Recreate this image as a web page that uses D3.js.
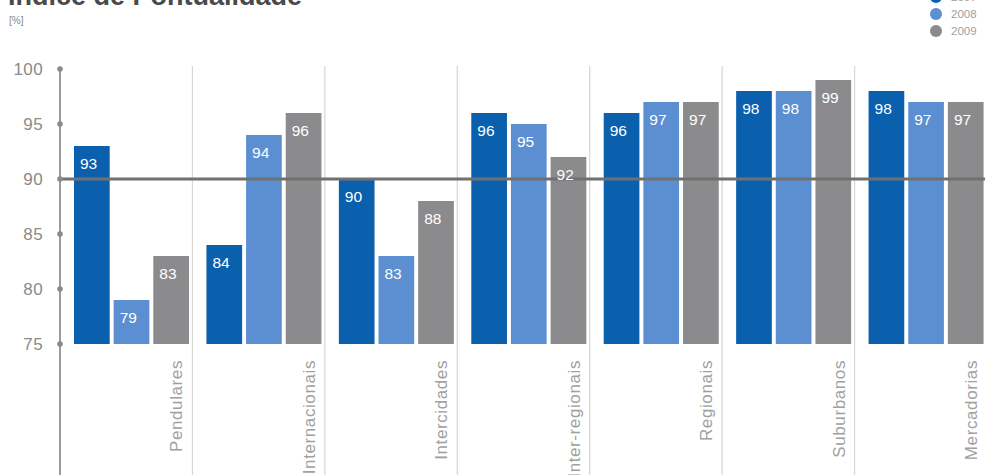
<!DOCTYPE html>
<html><head><meta charset="utf-8">
<script src="https://cdn.jsdelivr.net/npm/d3@7"></script>
<style>
html,body{margin:0;padding:0;background:#fff;overflow:hidden;}
text{font-family:"Liberation Sans",Arial,sans-serif;}
</style></head>
<body><svg id="c" width="985" height="475"></svg>
<script>
const categories = ["Pendulares","Internacionais","Intercidades","Inter-regionais","Regionais","Suburbanos","Mercadorias"];
const series = ["2007","2008","2009"];
const values2007 = [93,84,90,96,96,98,98];
const values2008 = [79,94,83,95,97,98,97];
const values2009 = [83,96,88,92,97,99,97];
const yTicks = [75,80,85,90,95,100];
const referenceValue = 90;
const colors = ["#0b60ae","#5b8fd2","#8b8b8d"];

const seriesValues = [values2007, values2008, values2009];
const svg = d3.select("#c");

const x0 = d3.scaleBand().domain(categories).range([60, 987]).paddingInner(0).paddingOuter(0);
const x1 = d3.scaleBand().domain(series).range([14, 129]).paddingInner(0.1).paddingOuter(0);
const y = d3.scaleLinear().domain([75, 100]).range([344, 69]);

// title (cut at the top edge, as in the reference)
svg.append("text").attr("x", 8).attr("y", 5).attr("font-size", 27).attr("font-weight", "bold")
  .attr("fill", "#4a4a4a").text("Índice de Pontualidade");
svg.append("text").attr("x", 9).attr("y", 24).attr("font-size", 10).attr("fill", "#888").text("[%]");

// legend
series.forEach((s, i) => {
  const cy = -3 + i * 17;
  svg.append("circle").attr("cx", 936).attr("cy", cy).attr("r", 6).attr("fill", colors[i]);
  svg.append("text").attr("x", 951).attr("y", cy + 4).attr("font-size", 11.5).attr("fill", "#a0a0a0").text(s);
});

// separators
categories.slice(1).forEach(c => {
  svg.append("line").attr("x1", x0(c)).attr("x2", x0(c)).attr("y1", 66).attr("y2", 475)
    .attr("stroke", "#d6d6d6").attr("stroke-width", 1.2);
});

// bars
const g = svg.append("g");
categories.forEach((c, ci) => {
  series.forEach((s, si) => {
    const v = seriesValues[si][ci];
    const bx = x0(c) + x1(s);
    g.append("rect").attr("x", bx).attr("y", y(v)).attr("width", x1.bandwidth())
      .attr("height", y(75) - y(v)).attr("fill", colors[si]);
  });
});

// reference line
svg.append("line").attr("x1", 60).attr("x2", 985).attr("y1", y(referenceValue)).attr("y2", y(referenceValue))
  .attr("stroke", "#707070").attr("stroke-width", 3);

// value labels
categories.forEach((c, ci) => {
  series.forEach((s, si) => {
    const v = seriesValues[si][ci];
    const bx = x0(c) + x1(s);
    svg.append("text").attr("x", bx + 6).attr("y", y(v) + 23).attr("font-size", 15.5)
      .attr("fill", "#fff").text(v);
  });
});

// y axis
svg.append("line").attr("x1", 60).attr("x2", 60).attr("y1", 69).attr("y2", 475)
  .attr("stroke", "#9a9a9a").attr("stroke-width", 2);
yTicks.forEach(t => {
  svg.append("circle").attr("cx", 60).attr("cy", y(t)).attr("r", 2.8).attr("fill", "#8a8a8a");
  svg.append("text").attr("x", 43).attr("y", y(t) + 6).attr("text-anchor", "end")
    .attr("font-size", 17).attr("letter-spacing", 0.4).attr("fill", "#8a8a8a").text(t);
});

// x labels
categories.forEach(c => {
  const xr = x0(c) + x0.bandwidth() - 10;
  svg.append("text").attr("transform", `translate(${xr},360) rotate(-90)`)
    .attr("text-anchor", "end").attr("font-size", 17).attr("letter-spacing", 0.6)
    .attr("fill", "#a0a0a0").text(c);
});
</script></body></html>
